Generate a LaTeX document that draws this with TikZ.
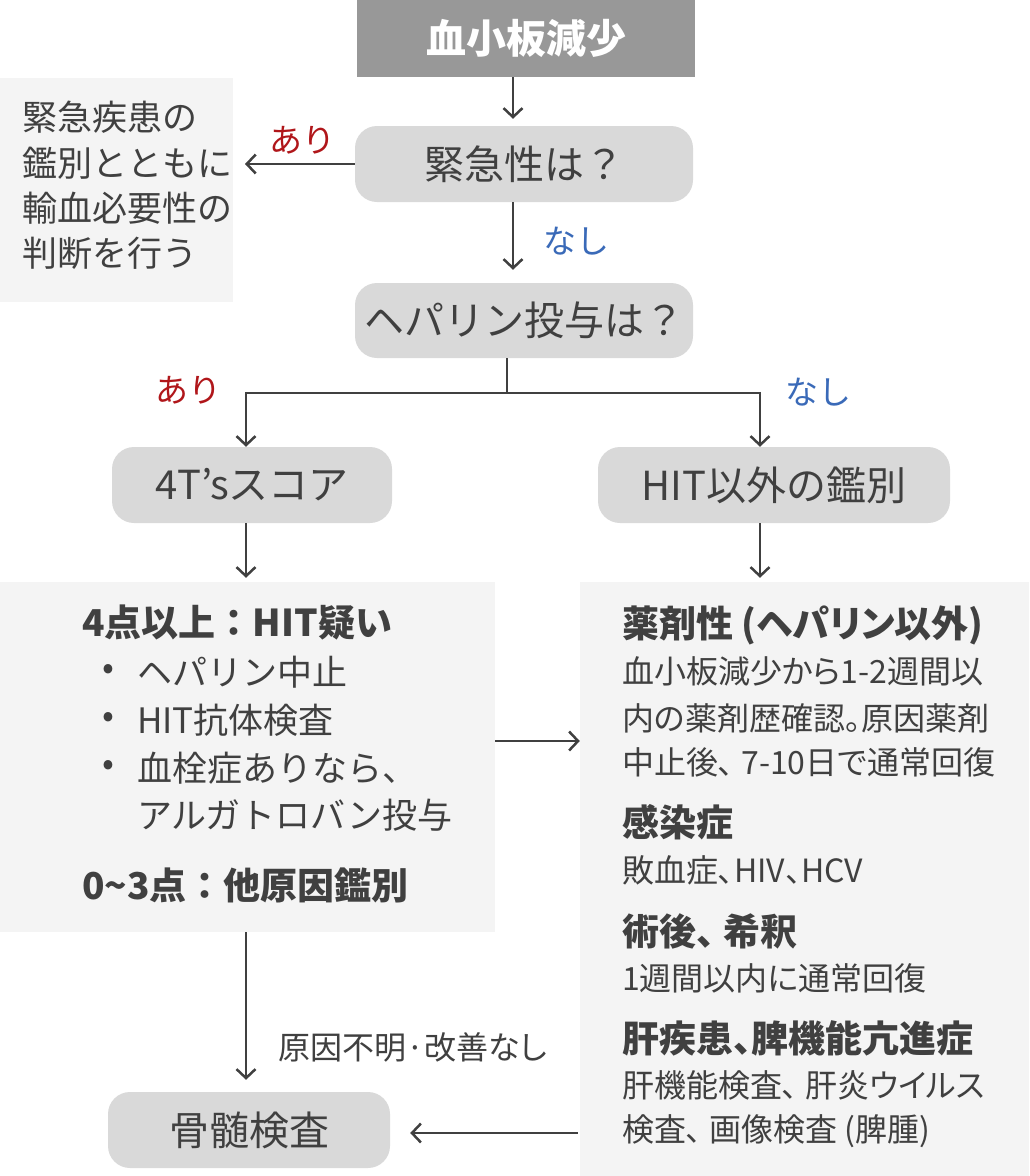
\documentclass[tikz,border=0pt]{standalone}
\usepackage{fontspec}
\setmainfont{Noto Sans CJK JP}
\newfontfamily\paltfont[RawFeature=+palt]{Noto Sans CJK JP}
\usetikzlibrary{arrows.meta}
\definecolor{txt}{HTML}{404040}
\definecolor{stepgray}{HTML}{D9D9D9}
\definecolor{panelgray}{HTML}{F4F4F4}
\definecolor{topgray}{HTML}{989898}
\definecolor{yesred}{HTML}{B0161A}
\definecolor{noblue}{HTML}{3A6AB8}
\tikzset{
  startbox/.style={fill=topgray, text=white, font=\bfseries\fontsize{40}{40}\selectfont,
    minimum width=338pt, minimum height=77pt},
  question/.style={fill=stepgray, rounded corners=22pt, font=\fontsize{40}{40}\selectfont,
    minimum height=76pt},
  panel/.style={fill=panelgray, minimum width=#1},
  body/.style={anchor=west, font=\fontsize{35}{35}\selectfont},
  small/.style={anchor=west, font=\paltfont\fontsize{32}{32}\selectfont},
  head/.style={anchor=west, font=\bfseries\fontsize{37}{37}\selectfont},
  rhead/.style={head, font=\paltfont\bfseries\fontsize{37}{37}\selectfont},
  yes/.style={text=yesred, font=\fontsize{33}{33}\selectfont},
  no/.style={text=noblue, font=\fontsize{33}{33}\selectfont},
  conn/.style={draw=txt, line width=2.5pt},
  arr/.style={conn, -{Straight Barb[length=9pt,width=19pt]}},
}
\begin{document}
\begin{tikzpicture}[x=1pt,y=-1pt,every node/.append style={text=txt, inner sep=0pt}]
\useasboundingbox (0,0) rectangle (1029,1176);

% gray panels
\node[panel=233pt, minimum height=224pt] (note) at (116.5,190) {};
\node[panel=495pt, minimum height=350pt] (lpanel) at (247.5,757) {};
\node[panel=449pt, minimum height=594pt] (rpanel) at (804.5,879) {};

% flow boxes
\node[startbox] (start) at (526,38.5) {血小板減少};
\node[question, minimum width=338pt] (q1) at (524,164) {緊急性は？};
\node[question, minimum width=338pt, minimum height=75pt] (q2) at (524,320.5) {ヘパリン投与は？};
\node[question, minimum width=280pt] (score) at (252,485) {4T’sスコア};
\node[question, minimum width=352pt] (other) at (774,485) {HIT以外の鑑別};
\node[question, minimum width=282pt] (marrow) at (249,1130) {骨髄検査};

% note text
\node[body] (n1) at (22,117) {緊急疾患の};
\node[body] (n2) at (22,163) {鑑別とともに};
\node[body] (n3) at (22,208) {輸血必要性の};
\node[body] (n4) at (22,253) {判断を行う};

% left panel text
\node[head] (l1) at (82,623) {4点以上：HIT疑い};
\node[body] (d1) at (102,672) {•};
\node[body] (l2) at (137,672) {ヘパリン中止};
\node[body] (d2) at (102,720) {•};
\node[body] (l3) at (137,720) {HIT抗体検査};
\node[body] (d3) at (102,768) {•};
\node[body] (l4) at (137,768) {血栓症ありなら、};
\node[body] (l5) at (137,815) {アルガトロバン投与};
\node[head] (l6) at (82,885) {0\textasciitilde3点：他原因鑑別};

% right panel text
\node[rhead] (r1) at (622,625) {薬剤性 (ヘパリン以外)};
\node[small] (r2) at (622,671) {血小板減少から1-2週間以};
\node[small] (r3) at (622,718) {内の薬剤歴確認。原因薬剤};
\node[small] (r4) at (622,762) {中止後、 7-10日で通常回復};
\node[rhead] (r5) at (622,822) {感染症};
\node[small] (r6) at (622,870) {敗血症、HIV、HCV};
\node[rhead] (r7) at (622,931) {術後、 希釈};
\node[small] (r8) at (622,978) {1週間以内に通常回復};
\node[rhead] (r9) at (622,1038) {肝疾患、脾機能亢進症};
\node[small] (r10) at (622,1085) {肝機能検査、 肝炎ウイルス};
\node[small] (r11) at (622,1131) {検査、 画像検査 (脾腫)};

% labels
\node[yes] (yes1) at (302,140) {あり};
\node[no] (no1) at (576,241) {なし};
\node[yes] (yes2) at (188,390) {あり};
\node[no] (no2) at (818,392) {なし};
\node[small, anchor=center] (fail) at (413,1047) {原因不明·改善なし};

% connectors
\coordinate (a0) at (513,0);
\coordinate (noteend) at (245,164);
\coordinate (f0) at (507,393);
\coordinate (fl) at (246,393);
\coordinate (fr) at (760,393);
\coordinate (lr) at (0,741);
\draw[arr] (start.south -| a0) -- ([yshift=7pt]q1.north -| a0);
\draw[arr] (q1.west) -- (noteend);
\draw[arr] (q1.south -| a0) -- ([yshift=13pt]q2.north -| a0);
\draw[conn] (q2.south -| f0) -- (f0);
\draw[conn] (fl) -- (fr);
\draw[arr] ([yshift=1.25pt]fl) -- (score.north -| fl);
\draw[arr] ([yshift=1.25pt]fr) -- (other.north -| fr);
\draw[arr] (score.south -| fl) -- ([yshift=4pt]lpanel.north -| fl);
\draw[arr] (other.south -| fr) -- ([yshift=4pt]rpanel.north -| fr);
\draw[arr] (lpanel.east |- lr) -- (rpanel.west |- lr);
\draw[arr] (lpanel.south -| fl) -- ([yshift=12pt]marrow.north -| fl);
\draw[arr] ([xshift=-2pt,yshift=-3pt]rpanel.west |- marrow) -- ([xshift=20pt,yshift=-3pt]marrow.east);
\end{tikzpicture}
\end{document}
